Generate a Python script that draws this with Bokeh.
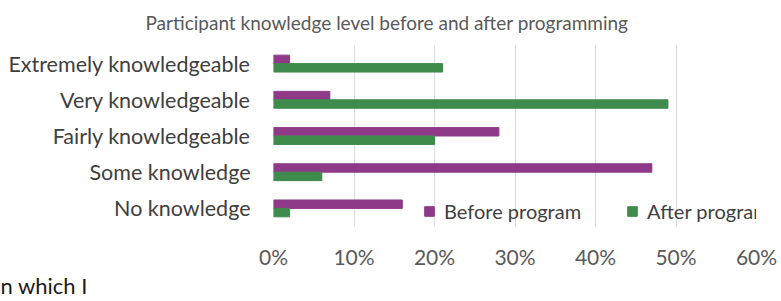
from bokeh.plotting import figure
from bokeh.models import (FactorRange, NumeralTickFormatter, FixedTicker, Legend, LegendItem,
                          ColumnDataSource, Title)
from bokeh.transform import dodge
from bokeh.embed import file_html
from bokeh.resources import INLINE

categories = ["Extremely knowledgeable", "Very knowledgeable", "Fairly knowledgeable",
              "Some knowledge", "No knowledge"]
before_program = [0.02, 0.07, 0.28, 0.47, 0.16]
after_program = [0.21, 0.49, 0.20, 0.06, 0.02]
x_ticks = [0.0, 0.1, 0.2, 0.3, 0.4, 0.5, 0.6]
chart_title = "Participant knowledge level before and after programming"
page_fragment = "n which I"

FONT = "Lato"
PURPLE = "#8e3a88"
GREEN = "#3f8b4b"

src = ColumnDataSource(dict(cat=categories, before=before_program, after=after_program))

p = figure(width=781, height=301, output_backend="svg", toolbar_location=None,
           y_range=FactorRange(factors=list(reversed(categories))),
           x_range=(0, 0.6),
           min_border_left=273, min_border_right=25, min_border_top=45, min_border_bottom=75)
p.outline_line_color = None
p.background_fill_color = "white"
p.border_fill_color = "white"

bh = 0.233
rb = p.hbar(y=dodge("cat", bh / 2, range=p.y_range), left=0, right="before", height=bh,
            source=src, fill_color=PURPLE, line_color=PURPLE)
ra = p.hbar(y=dodge("cat", -bh / 2, range=p.y_range), left=0, right="after", height=bh,
            source=src, fill_color=GREEN, line_color=GREEN)

p.ygrid.grid_line_color = None
p.xgrid.grid_line_color = "#dcdcdc"
p.xgrid.ticker = FixedTicker(ticks=x_ticks)

p.xaxis.ticker = FixedTicker(ticks=x_ticks)
p.xaxis.formatter = NumeralTickFormatter(format="0%")
p.xaxis.axis_line_color = None
p.xaxis.major_tick_line_color = None
p.xaxis.major_tick_out = 0
p.xaxis.major_tick_in = 0
p.xaxis.minor_tick_line_color = None
p.xaxis.major_label_text_font = FONT
p.xaxis.major_label_text_font_size = "21px"
p.xaxis.major_label_text_color = "#595959"
p.xaxis.major_label_standoff = 17

p.yaxis.axis_line_color = None
p.yaxis.major_tick_line_color = None
p.yaxis.major_tick_out = 0
p.yaxis.major_tick_in = 0
p.yaxis.minor_tick_line_color = None
p.yaxis.major_label_text_font = FONT
p.yaxis.major_label_text_font_size = "21.5px"
p.yaxis.major_label_text_color = "#404040"
p.yaxis.major_label_standoff = 23

# chart title (above the frame, shifted left to sit over the whole chart)
p.title.text = chart_title
p.title.align = "left"
p.title.offset = -128
p.title.vertical_align = "top"
p.title.standoff = 20
p.title.text_font = FONT
p.title.text_font_size = "19px"
p.title.text_font_style = "normal"
p.title.text_color = "#595959"

series_legend = Legend(items=[LegendItem(label="Before program", renderers=[rb]),
                              LegendItem(label="After program", renderers=[ra])],
                       orientation="horizontal", location=(150, 3),
                       glyph_width=12, glyph_height=12, label_text_font=FONT,
                       label_text_font_size="20px", label_text_color="#404040",
                       label_height=20, spacing=45, label_standoff=9,
                       padding=0, margin=0, background_fill_alpha=0, border_line_alpha=0)
p.add_layout(series_legend, "center")

frag = Title(text=page_fragment, align="left", offset=-273, vertical_align="top",
             standoff=0, text_font=FONT, text_font_size="22px",
             text_font_style="normal", text_color="#1a1a1a")
p.add_layout(frag, "below")

open("out.html", "w").write(file_html(p, INLINE))
